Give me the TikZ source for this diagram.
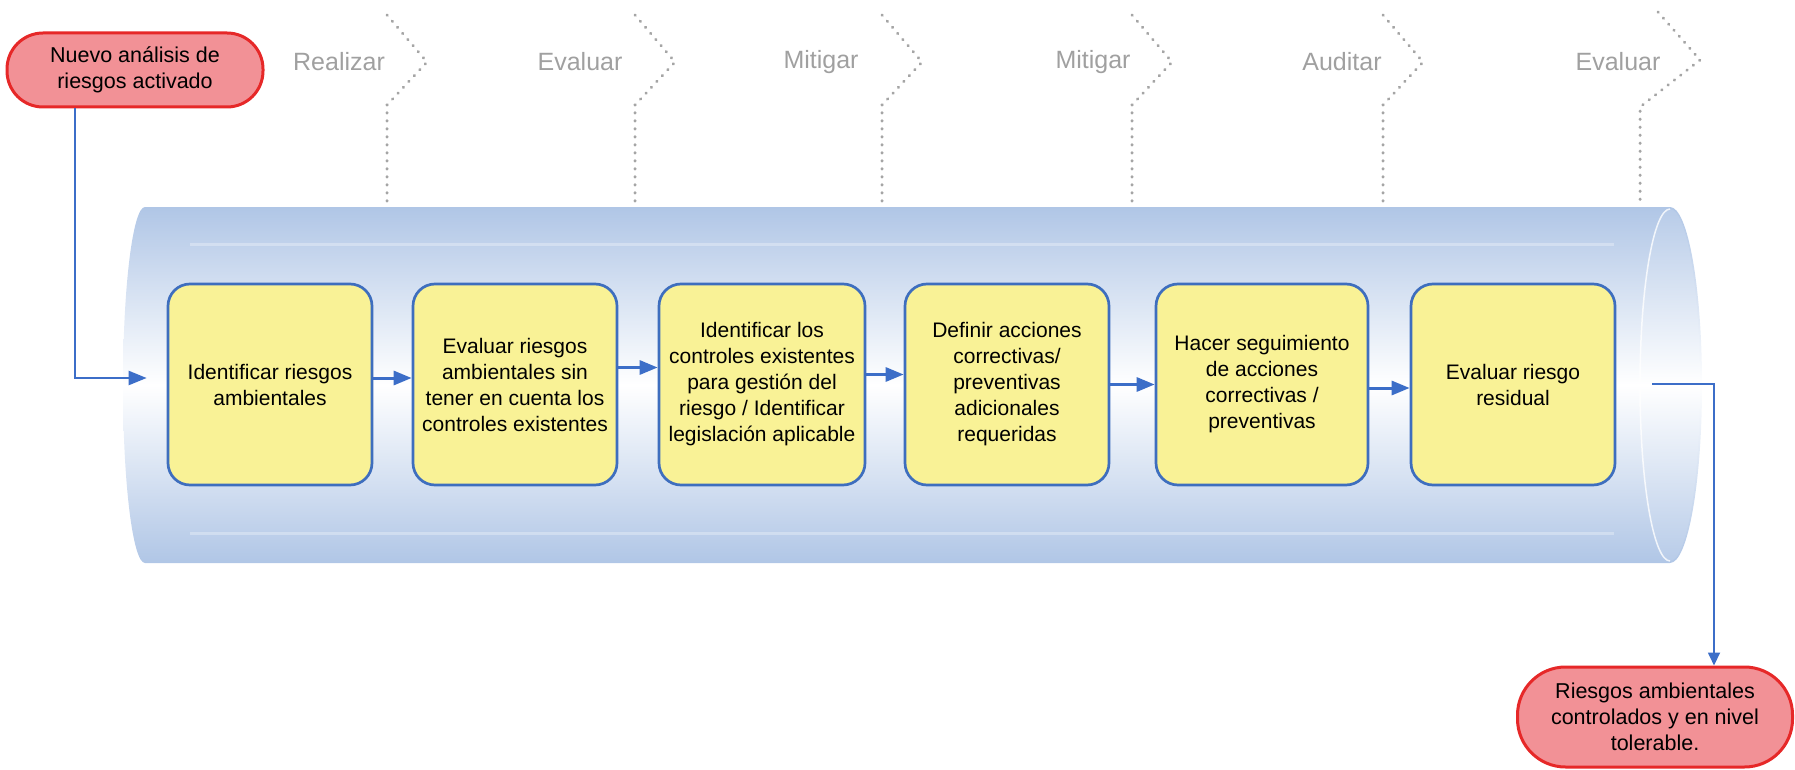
\documentclass[tikz,border=0pt]{standalone}
\usepackage{fontspec}
\setmainfont{Liberation Sans}
\usetikzlibrary{arrows.meta,calc}
\definecolor{cylblue}{RGB}{176,198,230}
\definecolor{boxfill}{RGB}{249,242,150}
\definecolor{boxline}{RGB}{62,110,190}
\definecolor{arrowblue}{RGB}{60,110,200}
\definecolor{redfill}{RGB}{242,145,150}
\definecolor{redline}{RGB}{230,40,40}
\definecolor{labelgray}{RGB}{160,160,160}
\definecolor{dotgray}{RGB}{165,165,165}
\begin{document}
\begin{tikzpicture}[x=1pt,y=1pt,
  stepbox/.style={draw=boxline, line width=2.7pt, fill=boxfill, rounded corners=22pt,
    minimum width=204pt, minimum height=201pt, inner sep=0pt, align=center,
    font=\fontsize{21}{26}\selectfont},
  terminal/.style={draw=redline, line width=3pt, fill=redfill, align=center, inner sep=0pt,
    font=\fontsize{21.5}{26}\selectfont},
  flow/.style={draw=arrowblue, line width=3pt, -{Triangle[length=18pt,width=14pt]}},
  thinflow/.style={draw=arrowblue, line width=1.8pt, -{Triangle[length=13pt,width=12pt]}},
  phase/.style={text=labelgray, font=\fontsize{25}{30}\selectfont, inner sep=0pt},
  chev/.style={draw=dotgray, line width=3pt, dash pattern=on 0.5pt off 7.5pt, line cap=round}
]
\useasboundingbox (0,0) rectangle (1795,-770);

% cylinder body
\shade[top color=cylblue, bottom color=cylblue, middle color=white]
  (145,-207) -- (1670,-207) arc[start angle=90,end angle=-90,x radius=32,y radius=178]
  -- (145,-563) arc[start angle=270,end angle=90,x radius=22,y radius=178] -- cycle;
% light stripes
\draw[white, line width=3pt, opacity=0.3] (190,-244) -- (1614,-244);
\draw[white, line width=3pt, opacity=0.3] (190,-533) -- (1614,-533);
% right cap
\shade[top color=cylblue!90, bottom color=cylblue!90, middle color=white]
  (1670,-385) ellipse[x radius=30,y radius=176];
\draw[white, line width=1.5pt, opacity=0.8] (1670,-209) arc[start angle=90,end angle=270,x radius=30,y radius=176];

% phase chevrons
\foreach \X in {387,635,882,1132,1383}
  \draw[chev] (\X,-15) -- (\X+40,-62) -- (\X,-105) -- (\X,-202);
\draw[chev] (1658,-12) -- (1700,-60) -- (1640,-107) -- (1640,-202);

% phase labels
\node[phase] (p1) at (339,-62) {Realizar};
\node[phase] (p2) at (580,-62) {Evaluar};
\node[phase] (p3) at (821,-62) {Mitigar};
\node[phase] (p4) at (1093,-62) {Mitigar};
\node[phase] (p5) at (1342,-62) {Auditar};
\node[phase] (p6) at (1618,-62) {Evaluar};

% process boxes
\node[stepbox] (b1) at (270,-384.5) {Identificar riesgos\\ambientales};
\node[stepbox] (b2) at (515,-384.5) {Evaluar riesgos\\ambientales sin\\tener en cuenta los\\controles existentes};
\node[stepbox, minimum width=206pt] (b3) at (762,-384.5) {Identificar los\\controles existentes\\para gestión del\\riesgo / Identificar\\legislación aplicable};
\node[stepbox] (b4) at (1007,-384.5) {Definir acciones\\correctivas/\\preventivas\\adicionales\\requeridas};
\node[stepbox, minimum width=212pt] (b5) at (1262,-384.5) {Hacer seguimiento\\de acciones\\correctivas /\\preventivas};
\node[stepbox] (b6) at (1513,-384.5) {Evaluar riesgo\\residual};

% terminals
\node[terminal, minimum width=256pt, minimum height=74pt, rounded corners=36pt] (s) at (135,-70)
  {Nuevo análisis de\\riesgos activado};
\node[terminal, minimum width=275pt, minimum height=100pt, rounded corners=48pt] (e) at (1655,-717)
  {Riesgos ambientales\\controlados y en nivel\\tolerable.};

% connectors
\draw[flow, line width=2.3pt] ([xshift=-60pt]s.south) |- ([xshift=-20pt,yshift=6.5pt]b1.west);
\draw[flow] ([yshift=6.5pt]b1.east) -- ([yshift=6.5pt]b2.west);
\draw[flow] ([yshift=17pt]b2.east) -- ([yshift=17pt]b3.west);
\draw[flow] ([yshift=10pt]b3.east) -- ([yshift=10pt]b4.west);
\draw[flow] (b4.east) -- (b5.west);
\draw[flow] ([yshift=-3.5pt]b5.east) -- ([yshift=-3.5pt]b6.west);
\coordinate (out) at (1652,-384);
\draw[thinflow] (out) -| ([xshift=59pt]e.north);
\end{tikzpicture}
\end{document}
